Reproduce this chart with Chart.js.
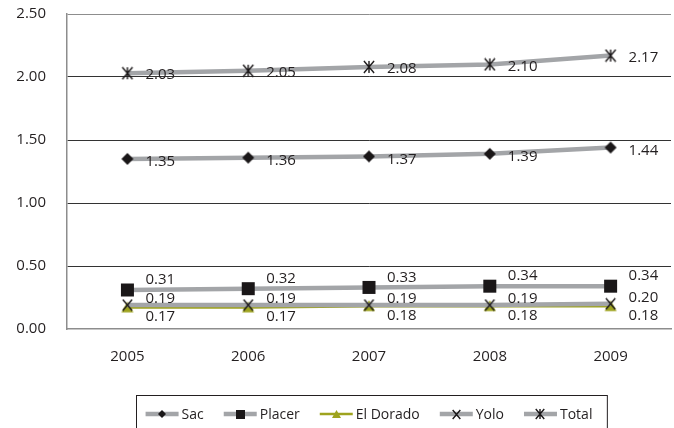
<!DOCTYPE html>
<html>
<head>
<meta charset="utf-8">
<script src="https://cdn.jsdelivr.net/npm/chart.js@4"></script>
<style>
  html, body { margin: 0; padding: 0; background: #fff; }
</style>
</head>
<body>
<canvas id="chart" width="674" height="428"></canvas>
<script>
// values
const years = ['2005', '2006', '2007', '2008', '2009'];
const sac = [1.35, 1.36, 1.37, 1.39, 1.44];
const placer = [0.31, 0.32, 0.33, 0.34, 0.34];
const elDorado = [0.17, 0.17, 0.18, 0.18, 0.18];
const yolo = [0.19, 0.19, 0.19, 0.19, 0.20];
const total = [2.03, 2.05, 2.08, 2.10, 2.17];
const yMin = 0, yMax = 2.5, yStep = 0.5;

const gray = '#a3a5a8';
const olive = '#9ea31e';
const ink = '#231f20';
const font = '"Open Sans", "DejaVu Sans", sans-serif';

// small canvas markers (also used in the legend)
function marker(kind, s, color) {
    let c = document.createElement('canvas');
    c.width = s + 2; c.height = s + 2;
    let g = c.getContext('2d');
    let m = (s + 2) / 2, h = s / 2;
    g.fillStyle = color; g.strokeStyle = color; g.lineWidth = 1.4;
    if (kind == 'diamond') {
        g.beginPath(); g.moveTo(m, m - h); g.lineTo(m + h, m); g.lineTo(m, m + h); g.lineTo(m - h, m);
        g.closePath(); g.fill();
    } else if (kind == 'square') {
        g.fillRect(m - h, m - h, s, s);
    } else if (kind == 'triangle') {
        g.beginPath(); g.moveTo(m, m - h); g.lineTo(m + h, m + h * 0.8); g.lineTo(m - h, m + h * 0.8);
        g.closePath(); g.fill();
    } else {
        g.beginPath();
        g.moveTo(m - h * 0.85, m - h); g.lineTo(m + h * 0.85, m + h);
        g.moveTo(m + h * 0.85, m - h); g.lineTo(m - h * 0.85, m + h);
        if (kind == 'star') { g.moveTo(m, m - h); g.lineTo(m, m + h); }
        g.stroke();
    }
    return c;
}

function series(label, data, kind, color, lineColor, width, dy, order, size, lsize) {
    return {
        label: label,
        data: data,
        borderColor: lineColor,
        backgroundColor: lineColor,
        borderWidth: width,
        pointStyle: marker(kind, size, color),
        pointRadius: 6,
        tension: 0,
        fill: false,
        order: order,
        labelDy: dy,
        legendMarker: marker(kind, lsize, color),
        legendLineWidth: width
    };
}

const valueLabels = {
    id: 'valueLabels',
    afterDatasetsDraw(chart) {
        const ctx = chart.ctx;
        ctx.save();
        ctx.font = '15px ' + font;
        ctx.fillStyle = ink;
        ctx.textBaseline = 'middle';
        chart.data.datasets.forEach((ds, i) => {
            chart.getDatasetMeta(i).data.forEach((pt, j) => {
                ctx.fillText(ds.data[j].toFixed(2), pt.x + 18, pt.y + ds.labelDy);
            });
        });
        ctx.restore();
    }
};

const boxLegend = {
    id: 'boxLegend',
    afterDraw(chart) {
        const ctx = chart.ctx, area = chart.chartArea;
        ctx.save();
        ctx.font = '14px ' + font;
        const items = chart.data.datasets.map(ds => ({ds: ds, w: 33 + 3 + ctx.measureText(ds.label).width}));
        const gap = 20;
        const full = items.reduce((a, it) => a + it.w, 0) + gap * (items.length - 1);
        let x = (area.left + area.right) / 2 - full / 2;
        const y = chart.height - 14;
        ctx.strokeStyle = ink; ctx.lineWidth = 1;
        ctx.strokeRect(Math.round(x - 10) + 0.5, y - 18.5, full + 24, 40);
        items.forEach(it => {
            ctx.strokeStyle = it.ds.borderColor;
            ctx.lineWidth = it.ds.legendLineWidth;
            ctx.beginPath(); ctx.moveTo(x, y); ctx.lineTo(x + 33, y); ctx.stroke();
            const img = it.ds.legendMarker;
            ctx.drawImage(img, Math.round(x + 16.5 - img.width / 2), Math.round(y - img.height / 2));
            ctx.fillStyle = ink;
            ctx.textBaseline = 'middle';
            ctx.fillText(it.ds.label, x + 36, y + 1);
            x += it.w + gap;
        });
        ctx.restore();
    }
};

new Chart(document.getElementById('chart'), {
    type: 'line',
    data: {
        labels: years,
        datasets: [
            series('Sac', sac, 'diamond', '#1a1718', gray, 4.5, 3, 3, 12, 8),
            series('Placer', placer, 'square', '#1a1718', gray, 4.5, -10, 2, 13, 9),
            series('El Dorado', elDorado, 'triangle', olive, olive, 2.5, 9, 4, 12, 9),
            series('Yolo', yolo, 'cross', '#1a1718', gray, 4.5, -6, 1, 11, 9),
            series('Total', total, 'star', '#1a1718', gray, 4.5, 2, 0, 12, 10)
        ]
    },
    options: {
        responsive: false,
        animation: false,
        layout: { autoPadding: false, padding: { top: 14, right: 3, bottom: 0, left: 0 } },
        plugins: { legend: { display: false }, tooltip: { enabled: false } },
        scales: {
            x: {
                offset: true,
                grid: { color: 'rgba(0,0,0,0)', drawTicks: false },
                border: { display: true, color: '#8d8d8d', width: 1.5 },
                ticks: { color: ink, font: { family: font, size: 15 }, padding: 19 },
                afterFit: s => { s.height = 99; }
            },
            y: {
                min: yMin, max: yMax,
                grid: {
                    drawTicks: false,
                    color: c => (c.tick.value == yMax ? '#8d8d8d' : (c.tick.value == yMin ? 'rgba(0,0,0,0)' : '#333')),
                    lineWidth: 1
                },
                border: { display: true, color: '#8d8d8d', width: 1.5 },
                ticks: {
                    stepSize: yStep,
                    color: ink,
                    font: { family: font, size: 15 },
                    padding: 21,
                    callback: v => v.toFixed(2)
                },
                // tick padding also pads the axis ends; keep the plot top where the reference has it
                afterFit: s => { s.width = 67; s.paddingTop = 0; s.paddingBottom = 0; }
            }
        }
    },
    plugins: [valueLabels, boxLegend]
});
</script>
</body>
</html>
